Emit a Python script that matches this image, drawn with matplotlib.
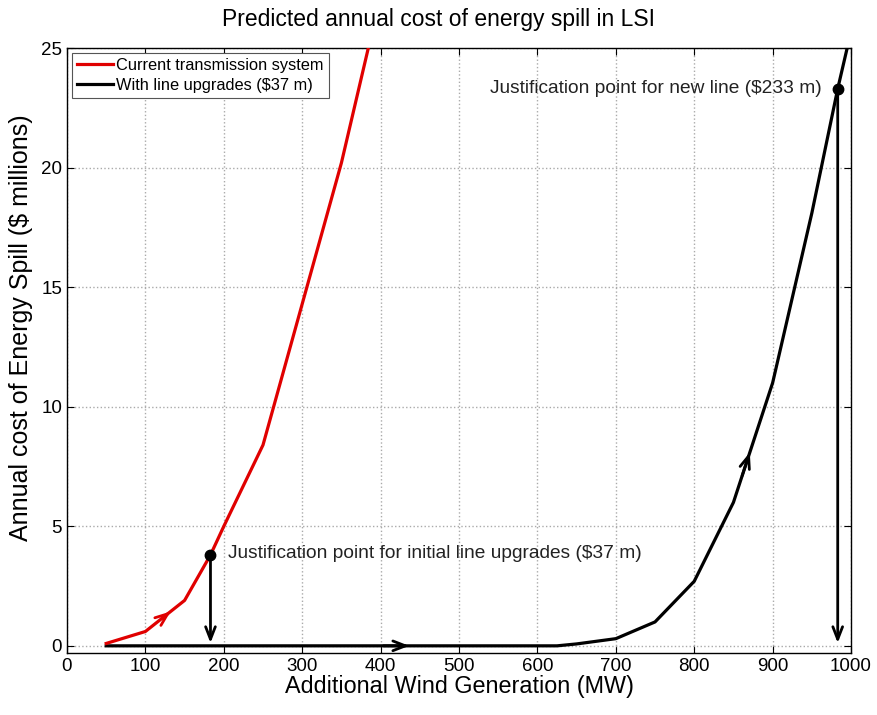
import matplotlib
matplotlib.use("Agg")
import matplotlib.pyplot as plt
import numpy as np

plt.rcParams['font.family'] = ['Liberation Sans', 'DejaVu Sans']

# Data
current_x = [50, 100, 150, 183, 200, 250, 300, 350, 400]
current_y = [0.1, 0.6, 1.9, 3.8, 5.0, 8.4, 14.3, 20.2, 27.2]
upgrade_x = [50, 183, 300, 400, 500, 600, 625, 650, 700, 750, 800, 850, 900, 950, 983, 1000]
upgrade_y = [0.0, 0.0, 0.0, 0.0, 0.0, 0.0, 0.0, 0.08, 0.3, 1.0, 2.7, 6.0, 11.0, 18.1, 23.3, 25.7]
init_pt = (183, 3.8)
new_pt = (983, 23.3)
xticks = list(range(0, 1001, 100))
yticks = [0, 5, 10, 15, 20, 25]

fig = plt.figure(figsize=(8.78, 7.15), dpi=100)
ax = fig.add_axes([0.0763, 0.0867, 0.893, 0.846])

ax.plot(upgrade_x, upgrade_y, color='black', lw=2.3, label='With line upgrades ($37 m)', zorder=3)
ax.plot(current_x, current_y, color='#e00000', lw=2.3, label='Current transmission system', zorder=4)

arrow_kw = dict(arrowstyle='->,head_length=0.9,head_width=0.35', lw=2.0)
# vertical arrows
ax.annotate('', xy=(init_pt[0], 0), xytext=init_pt,
            arrowprops=dict(color='black', **arrow_kw), zorder=5)
ax.annotate('', xy=(new_pt[0], 0), xytext=new_pt,
            arrowprops=dict(color='black', **arrow_kw), zorder=5)
# along-curve arrows
xa0, xa1 = 118, 135
ax.annotate('', xy=(xa1, np.interp(xa1, current_x, current_y)),
            xytext=(xa0, np.interp(xa0, current_x, current_y)),
            arrowprops=dict(color='#e00000', **arrow_kw), zorder=5)
ax.annotate('', xy=(440, 0), xytext=(400, 0),
            arrowprops=dict(color='black', **arrow_kw), zorder=5)
xb0, xb1 = 860, 872
ax.annotate('', xy=(xb1, np.interp(xb1, upgrade_x, upgrade_y)),
            xytext=(xb0, np.interp(xb0, upgrade_x, upgrade_y)),
            arrowprops=dict(color='black', **arrow_kw), zorder=5)

ax.plot(*init_pt, 'o', color='black', ms=7.5, zorder=6)
ax.plot(*new_pt, 'o', color='black', ms=7.5, zorder=6)

ax.text(init_pt[0] + 22, init_pt[1] + 0.05, 'Justification point for initial line upgrades ($37 m)',
        fontsize=13.8, va='center', ha='left', color='#222222')
ax.text(new_pt[0] - 20, new_pt[1], 'Justification point for new line ($233 m)',
        fontsize=13.8, va='center', ha='right', color='#222222')

ax.set_xlim(0, 1000)
ax.set_ylim(-0.3, 25)
ax.set_xticks(xticks)
ax.set_yticks(yticks)
ax.tick_params(direction='in', top=True, right=True, labelsize=13.5, length=5)
ax.grid(True, color='#aaaaaa', linestyle=':', lw=1.0)
ax.set_axisbelow(True)
for s in ax.spines.values():
    s.set_linewidth(1.0)

fig.text(0.5, 0.973, 'Predicted annual cost of energy spill in LSI', fontsize=16.5,
         ha='center', va='center')
ax.set_xlabel('Additional Wind Generation (MW)', fontsize=16.8, labelpad=0)
ax.set_ylabel('Annual cost of Energy Spill ($ millions)', fontsize=18, labelpad=4)
ax.yaxis.set_label_coords(-0.043, 0.537)

handles, labels = ax.get_legend_handles_labels()
leg = ax.legend(handles[::-1], labels[::-1], loc='upper left', fontsize=11.8,
                handlelength=2.2, handletextpad=0.2, borderpad=0.3, labelspacing=0.3,
                borderaxespad=0.3,
                fancybox=False, edgecolor='#555555', framealpha=1)
leg.get_frame().set_linewidth(0.8)

fig.savefig('out.png', dpi=100)
